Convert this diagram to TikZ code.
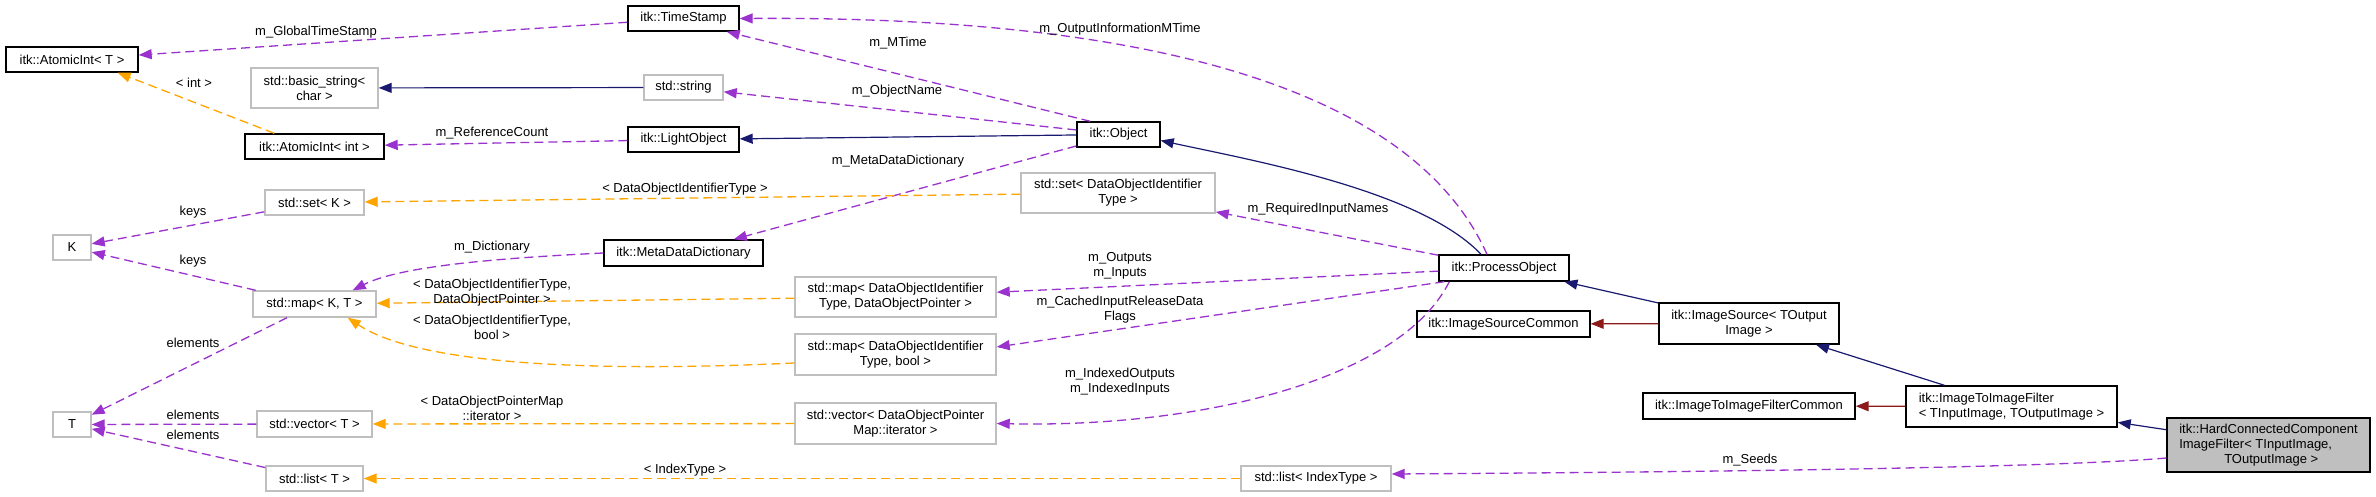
\documentclass[tikz,border=0pt]{standalone}
\usepackage{fontspec}
\setmainfont{Liberation Sans}
\usepackage{xcolor}
\usetikzlibrary{arrows.meta}
\definecolor{myorchid}{RGB}{154,50,205}
\definecolor{myorange}{RGB}{255,165,0}
\definecolor{mynavy}{RGB}{25,25,112}
\definecolor{myred}{RGB}{139,26,26}
\definecolor{mygrey}{RGB}{191,191,191}

\begin{document}
\begin{tikzpicture}[x=1pt,y=-1pt,
  font=\fontsize{13}{15}\selectfont,
  cls/.style={draw=black,line width=1.4pt,fill=white,inner sep=0pt,minimum height=25pt,align=center},
  ext/.style={cls,draw=mygrey},
  cur/.style={cls,fill=mygrey},
  lbl/.style={inner sep=0pt,align=center},
  memb/.style={-{Triangle[length=13pt,width=10pt]},line width=1.3pt,color=myorchid,dash pattern=on 9pt off 5pt},
  tpl/.style={memb,color=myorange},
  pub/.style={-{Triangle[length=13pt,width=10pt]},line width=1.2pt,color=mynavy},
  prv/.style={pub,color=myred}]
\useasboundingbox (0,0) rectangle (2376,497);

%%%%%%%%%%  classes
\node[cls,minimum width=132pt] (aiT) at (72,59.5) {itk::AtomicInt< T >};
\node[cls,minimum width=111pt] (ts) at (683.5,18.5) {itk::TimeStamp};
\node[ext,minimum width=127pt,minimum height=40pt] (bstr) at (314.5,88) {std::basic\_string<\\char >};
\node[ext,minimum width=79pt] (str) at (683.5,87.5) {std::string};
\node[cls,minimum width=139pt] (aiInt) at (314.5,146.5) {itk::AtomicInt< int >};
\node[cls,minimum width=111pt] (lobj) at (683.5,139.5) {itk::LightObject};
\node[cls,minimum width=83pt] (obj) at (1118.5,134.5) {itk::Object};
\node[ext,minimum width=99pt] (setK) at (314.5,202.5) {std::set< K >};
\node[ext,minimum width=194pt,minimum height=40pt] (setId) at (1118,193) {std::set< DataObjectIdentifier\\Type >};
\node[ext,minimum width=38pt] (K) at (72,247.5) {K};
\node[cls,minimum width=159pt,minimum height=26pt] (mdd) at (683.5,253) {itk::MetaDataDictionary};
\node[ext,minimum width=123pt,minimum height=26pt] (mapKT) at (314.5,304) {std::map< K, T >};
\node[ext,minimum width=201pt,minimum height=40pt] (mapPtr) at (895.5,297) {std::map< DataObjectIdentifier\\Type, DataObjectPointer >};
\node[ext,minimum width=201pt,minimum height=41pt] (mapBool) at (895.5,354.5) {std::map< DataObjectIdentifier\\Type, bool >};
\node[ext,minimum width=38pt] (T) at (72,424.5) {T};
\node[ext,minimum width=115pt,minimum height=26pt] (vecT) at (314.5,424) {std::vector< T >};
\node[ext,minimum width=201pt,minimum height=41pt] (vecIt) at (895.5,423.5) {std::vector< DataObjectPointer\\Map::iterator >};
\node[ext,minimum width=97pt] (listT) at (314.5,478.5) {std::list< T >};
\node[ext,minimum width=150pt] (listIdx) at (1316,478.5) {std::list< IndexType >};
\node[cls,minimum width=130pt,minimum height=26pt] (po) at (1504,268) {itk::ProcessObject};
\node[cls,minimum width=173pt,minimum height=26pt] (isc) at (1503.5,324) {itk::ImageSourceCommon};
\node[cls,minimum width=180pt,minimum height=41pt] (isrc) at (1749,323.5) {itk::ImageSource< TOutput\\Image >};
\node[cls,minimum width=212pt,minimum height=26pt] (itifc) at (1749,406) {itk::ImageToImageFilterCommon};
\node[cls,minimum width=211pt,minimum height=41pt,align=left] (itif) at (2011.5,406.5) {itk::ImageToImageFilter\\< TInputImage, TOutputImage >};
\node[cur,minimum width=203pt,minimum height=54pt,align=left] (hcc) at (2268.5,445) {itk::HardConnectedComponent\\ImageFilter< TInputImage,\\\hspace*{45pt}TOutputImage >};

%%%%%%%%%%  inheritance
\draw[pub] (str) -- (bstr);
\draw[pub] (obj) -- (lobj);
\draw[pub] ([xshift=-23pt]po.north) .. controls (1420,190) and (1250,160) .. ([yshift=-6pt]obj.east);
\draw[pub] (isrc) -- (po);
\draw[prv] (isrc) -- (isc);
\draw[pub] (itif) -- (isrc);
\draw[prv] (itif) -- (itifc);
\draw[pub] (hcc) -- (itif);

%%%%%%%%%%  members
\draw[memb] (ts) -- (aiT);
\draw[memb] (lobj) -- (aiInt);
\draw[memb] ([xshift=14pt]obj.north west) -- ([xshift=-13pt]ts.south east);
\draw[memb] (obj) -- (str);
\draw[memb] (obj) -- (mdd);
\draw[memb] ([xshift=-17pt]po.north) .. controls (1440,150) and (1290,15) .. (ts.east);
\draw[memb] (po) -- (setId);
\draw[memb] (mdd.west) .. controls (500,258) and (400,266) .. ([xshift=-24pt]mapKT.north east);
\draw[memb] (setK) -- (K);
\draw[memb] (mapKT) -- (K);
\draw[memb] (mapKT) -- (T);
\draw[memb] (vecT) -- (T);
\draw[memb] (listT) -- (T);
\draw[memb] (po) -- (mapPtr);
\draw[memb] ([xshift=6pt]po.south west) -- ([yshift=7.5pt]mapBool.east);
\draw[memb] ([xshift=11pt]po.south west) .. controls (1400,380) and (1200,428) .. (vecIt.east);
\draw[memb] ([yshift=-13pt]hcc.west) .. controls (2050,468) and (1700,472) .. ([yshift=4.5pt]listIdx.east);

%%%%%%%%%%  templates
\draw[tpl] ([xshift=30pt]aiInt.north west) -- ([xshift=-21pt]aiT.south east);
\draw[tpl] (setId) -- (setK);
\draw[tpl] (mapPtr) -- (mapKT);
\draw[tpl] ([yshift=-8.5pt]mapBool.west) .. controls (600,372) and (420,366) .. ([xshift=-29pt]mapKT.south east);
\draw[tpl] (vecIt) -- (vecT);
\draw[tpl] (listIdx) -- (listT);

%%%%%%%%%%  labels
\node[lbl] (lGlob) at (316,32) {m\_GlobalTimeStamp};
\node[lbl] (lInt) at (194,83) {< int >};
\node[lbl] (lRef) at (492,133) {m\_ReferenceCount};
\node[lbl] (lMTime) at (898,43) {m\_MTime};
\node[lbl] (lName) at (897,91) {m\_ObjectName};
\node[lbl] (lMeta) at (898,161) {m\_MetaDataDictionary};
\node[lbl] (lOutInfo) at (1120,29) {m\_OutputInformationMTime};
\node[lbl] (lReq) at (1318,209) {m\_RequiredInputNames};
\node[lbl] (lSetId) at (685,189) {< DataObjectIdentifierType >};
\node[lbl] (lDict) at (492,247) {m\_Dictionary};
\node[lbl] (lKeysA) at (193,212) {keys};
\node[lbl] (lKeysB) at (193,261) {keys};
\node[lbl] (lElemA) at (193,343) {elements};
\node[lbl] (lElemB) at (193,415) {elements};
\node[lbl] (lElemC) at (193,435) {elements};
\node[lbl] (lMapPtr) at (492,292.5) {< DataObjectIdentifierType,\\DataObjectPointer >};
\node[lbl] (lMapBool) at (492,327.5) {< DataObjectIdentifierType,\\bool >};
\node[lbl] (lVecIt) at (492,408) {< DataObjectPointerMap\\::iterator >};
\node[lbl] (lIdx) at (685,470) {< IndexType >};
\node[lbl] (lOut) at (1120,266) {m\_Outputs\\m\_Inputs};
\node[lbl] (lCached) at (1120,310) {m\_CachedInputReleaseData\\Flags};
\node[lbl] (lIndexed) at (1120,382) {m\_IndexedOutputs\\m\_IndexedInputs};
\node[lbl] (lSeeds) at (1750,460) {m\_Seeds};
\end{tikzpicture}
\end{document}
